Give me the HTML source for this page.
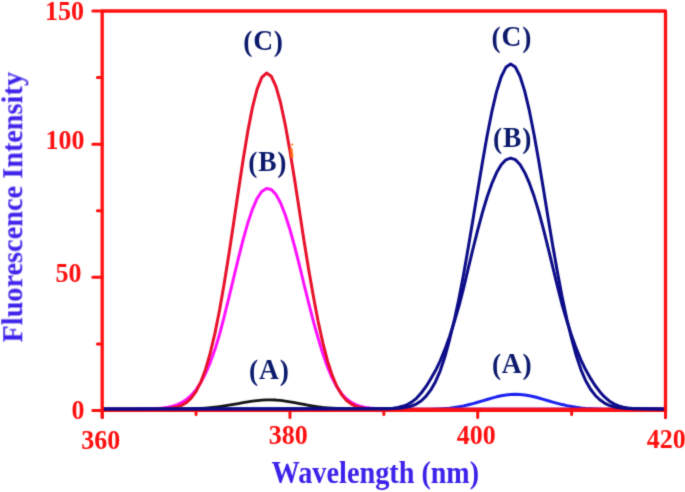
<!DOCTYPE html>
<html><head><meta charset="utf-8"><style>html,body{margin:0;padding:0;background:#fff;overflow:hidden}svg{display:block}</style></head>
<body><svg width="685" height="492" viewBox="0 0 685 492"><defs><filter id="soft" x="0" y="0" width="685" height="492" filterUnits="userSpaceOnUse" color-interpolation-filters="sRGB"><feConvolveMatrix order="3" kernelMatrix="0.01917 0.10012 0.01917 0.10012 0.52283 0.10012 0.01917 0.10012 0.01917" edgeMode="none"/></filter></defs><rect width="685" height="492" fill="#fff"/><g filter="url(#soft)"><path d="M102.2,409.80 L402.6,409.78 L407.3,409.76 L412.0,409.74 L416.7,409.70 L421.4,409.64 L426.1,409.55 L430.8,409.41 L435.5,409.22 L440.2,408.96 L444.9,408.60 L449.6,408.13 L454.3,407.53 L459.0,406.78 L463.7,405.87 L468.3,404.81 L473.0,403.60 L477.7,402.27 L482.4,400.88 L487.1,399.46 L491.8,398.08 L496.5,396.83 L501.2,395.76 L505.9,394.95 L510.6,394.46 L515.3,394.30 L520.0,394.49 L524.7,394.99 L529.4,395.79 L534.1,396.82 L538.8,398.03 L543.5,399.36 L548.1,400.74 L552.8,402.10 L557.5,403.39 L562.2,404.58 L566.9,405.64 L571.6,406.56 L576.3,407.33 L581.0,407.95 L585.7,408.45 L590.4,408.83 L595.1,409.12 L599.8,409.34 L604.5,409.49 L609.2,409.60 L613.9,409.67 L618.6,409.72 L623.3,409.75 L627.9,409.77 L637.3,409.79 L665.5,409.80" fill="none" stroke="#1a22f0" stroke-width="3" stroke-linejoin="round" stroke-linecap="butt"/>
<path d="M102.2,409.20 L163.2,409.17 L167.9,409.16 L172.6,409.13 L177.3,409.09 L182.0,409.02 L186.7,408.93 L191.4,408.81 L196.1,408.63 L200.8,408.39 L205.5,408.09 L210.2,407.69 L214.9,407.21 L219.6,406.63 L224.2,405.96 L228.9,405.21 L233.6,404.39 L238.3,403.53 L243.0,402.67 L247.7,401.86 L252.4,401.12 L257.1,400.52 L261.8,400.09 L266.5,399.84 L271.2,399.82 L275.9,400.02 L280.6,400.44 L285.3,401.05 L290.0,401.81 L294.7,402.67 L299.4,403.57 L304.0,404.47 L308.7,405.32 L313.4,406.10 L318.1,406.78 L322.8,407.37 L327.5,407.84 L332.2,408.22 L336.9,408.51 L341.6,408.73 L346.3,408.88 L351.0,408.99 L355.7,409.07 L360.4,409.12 L365.1,409.15 L369.8,409.17 L383.8,409.19 L665.5,409.20" fill="none" stroke="#141414" stroke-width="2.8" stroke-linejoin="round" stroke-linecap="butt"/>
<path d="M102.2,409.20 L130.4,409.17 L135.1,409.15 L139.8,409.11 L144.4,409.04 L149.1,408.92 L153.8,408.74 L158.5,408.44 L163.2,407.97 L167.9,407.26 L172.6,406.20 L177.3,404.65 L182.0,402.43 L186.7,399.34 L191.4,395.14 L196.1,389.60 L200.8,382.46 L205.5,373.51 L210.2,362.57 L214.9,349.58 L219.6,334.25 L224.2,316.65 L228.9,297.72 L233.6,278.13 L238.3,258.63 L243.0,240.10 L247.7,223.38 L252.4,209.28 L257.1,198.47 L261.8,191.42 L266.5,188.41 L271.2,189.44 L275.9,194.36 L280.6,202.99 L285.3,214.97 L290.0,229.77 L294.7,246.74 L299.4,265.19 L304.0,284.26 L308.7,303.19 L313.4,321.29 L318.1,338.08 L322.8,353.58 L327.5,366.97 L332.2,378.12 L336.9,386.97 L341.6,393.81 L346.3,398.71 L351.0,402.23 L355.7,404.70 L360.4,406.31 L365.1,407.36 L369.8,408.05 L374.5,408.50 L379.2,408.78 L383.8,408.96 L388.5,409.06 L393.2,409.12 L397.9,409.16 L407.3,409.19 L665.5,409.20" fill="none" stroke="#ff10ff" stroke-width="3" stroke-linejoin="round" stroke-linecap="butt"/>
<path d="M102.2,409.20 L144.4,409.17 L149.1,409.14 L153.8,409.08 L158.5,408.97 L163.2,408.77 L167.9,408.42 L172.6,407.83 L177.3,406.84 L182.0,405.11 L186.7,402.37 L191.4,397.95 L196.1,391.42 L200.8,382.13 L205.5,369.54 L210.2,353.20 L214.9,333.40 L219.6,310.05 L224.2,283.49 L228.9,254.32 L233.6,223.21 L238.3,191.43 L243.0,160.45 L247.7,131.90 L252.4,107.63 L257.1,89.07 L261.8,77.32 L266.5,73.02 L271.2,76.16 L275.9,86.34 L280.6,102.96 L285.3,125.04 L290.0,151.30 L294.7,180.32 L299.4,210.62 L304.0,240.80 L308.7,269.64 L313.4,296.57 L318.1,321.24 L322.8,342.62 L327.5,360.93 L332.2,375.46 L336.9,386.51 L341.6,394.60 L346.3,400.22 L351.0,403.80 L355.7,406.08 L360.4,407.36 L365.1,408.12 L369.8,408.58 L374.5,408.86 L379.2,409.02 L383.8,409.10 L388.5,409.15 L393.2,409.17 L407.3,409.20 L665.5,409.20" fill="none" stroke="#e8102a" stroke-width="3" stroke-linejoin="round" stroke-linecap="butt"/>
<path d="M290.9,147.8 L292.1,157.5" stroke="#ff6a14" stroke-width="2.8" fill="none"/><circle cx="292.2" cy="144.6" r="1.1" fill="#ff7a20"/>
<path d="M102.2,410.5 L665.5,410.5 M102.20,410.5 L102.20,417.6 M289.97,410.5 L289.97,417.6 M477.73,410.5 L477.73,417.6 M665.50,410.5 L665.50,417.6 M196.08,410.5 L196.08,414.6 M383.85,410.5 L383.85,414.6 M571.62,410.5 L571.62,414.6" fill="none" stroke="#ff1010" stroke-width="3" stroke-linecap="round"/>
<path d="M102.2,408.90 L369.8,408.87 L374.5,408.85 L379.2,408.81 L383.8,408.72 L388.5,408.51 L393.2,408.13 L397.9,407.45 L402.6,406.33 L407.3,404.56 L412.0,401.93 L416.7,398.10 L421.4,392.76 L426.1,386.44 L430.8,378.82 L435.5,370.59 L440.2,360.82 L444.9,349.43 L449.6,336.41 L454.3,321.83 L459.0,305.83 L463.7,287.59 L468.3,268.12 L473.0,248.77 L477.7,230.11 L482.4,212.62 L487.1,196.98 L491.8,183.70 L496.5,172.84 L501.2,164.79 L505.9,159.82 L510.6,158.10 L515.3,159.67 L520.0,164.49 L524.7,172.41 L529.4,183.14 L534.1,196.32 L538.8,211.85 L543.5,229.28 L548.1,247.90 L552.8,267.23 L557.5,286.71 L562.2,305.04 L566.9,321.02 L571.6,335.61 L576.3,348.64 L581.0,360.05 L585.7,369.86 L590.4,378.15 L595.1,385.53 L599.8,391.67 L604.5,396.92 L609.2,400.94 L613.9,403.87 L618.6,405.86 L623.3,407.16 L627.9,407.95 L632.6,408.41 L637.3,408.66 L642.0,408.78 L646.7,408.83 L651.4,408.86 L660.8,408.89 L665.5,408.89" fill="none" stroke="#0c0c88" stroke-width="3" stroke-linejoin="round" stroke-linecap="butt"/>
<path d="M102.2,408.90 L379.2,408.87 L383.8,408.83 L388.5,408.76 L393.2,408.62 L397.9,408.35 L402.6,407.89 L407.3,407.10 L412.0,405.81 L416.7,403.79 L421.4,400.74 L426.1,396.19 L430.8,389.91 L435.5,381.70 L440.2,370.85 L444.9,356.78 L449.6,339.52 L454.3,320.19 L459.0,298.28 L463.7,273.74 L468.3,247.19 L473.0,219.26 L477.7,190.69 L482.4,162.50 L487.1,135.85 L491.8,111.94 L496.5,91.92 L501.2,76.78 L505.9,67.31 L510.6,64.00 L515.3,67.02 L520.0,76.22 L524.7,91.11 L529.4,110.93 L534.1,134.69 L538.8,161.23 L543.5,189.38 L548.1,217.96 L552.8,245.94 L557.5,272.56 L562.2,297.22 L566.9,319.25 L571.6,338.61 L576.3,355.78 L581.0,369.84 L585.7,380.72 L590.4,388.99 L595.1,395.21 L599.8,399.79 L604.5,403.09 L609.2,405.32 L613.9,406.77 L618.6,407.68 L623.3,408.22 L627.9,408.54 L632.6,408.72 L637.3,408.81 L642.0,408.86 L646.7,408.88 L665.5,408.90" fill="none" stroke="#0c0c88" stroke-width="3" stroke-linejoin="round" stroke-linecap="butt"/>
<path d="M102.2,412.0 L102.2,11.0 L665.5,11.0 L665.5,412.0" fill="none" stroke="#ff1010" stroke-width="3.3" stroke-linejoin="round"/>
<path d="M102.2,410.50 L92.8,410.50 M102.2,277.33 L92.8,277.33 M102.2,144.17 L92.8,144.17 M102.2,11.00 L92.8,11.00 M102.2,343.92 L97.4,343.92 M102.2,210.75 L97.4,210.75 M102.2,77.58 L97.4,77.58 M102.20,410.5 L102.20,417.6 M665.50,410.5 L665.50,417.6" fill="none" stroke="#ff1010" stroke-width="3" stroke-linecap="round"/>
<text transform="translate(84,19.5) scale(1,1.04)" font-family="Liberation Serif, Times New Roman, serif" font-weight="bold" font-size="26" fill="#ff1010" text-anchor="end">150</text>
<text transform="translate(84.5,149) scale(1,1.04)" font-family="Liberation Serif, Times New Roman, serif" font-weight="bold" font-size="26" fill="#ff1010" text-anchor="end">100</text>
<text transform="translate(81.5,281.5) scale(1,1.04)" font-family="Liberation Serif, Times New Roman, serif" font-weight="bold" font-size="26" fill="#ff1010" text-anchor="end">50</text>
<text transform="translate(84.5,419) scale(1,1.04)" font-family="Liberation Serif, Times New Roman, serif" font-weight="bold" font-size="26" fill="#ff1010" text-anchor="end">0</text>
<text transform="translate(100.7,448.5) scale(1,1.04)" font-family="Liberation Serif, Times New Roman, serif" font-weight="bold" font-size="26" fill="#ff1010" text-anchor="middle">360</text>
<text transform="translate(288.3,444) scale(1,1.04)" font-family="Liberation Serif, Times New Roman, serif" font-weight="bold" font-size="26" fill="#ff1010" text-anchor="middle">380</text>
<text transform="translate(476.3,443.5) scale(1,1.04)" font-family="Liberation Serif, Times New Roman, serif" font-weight="bold" font-size="26" fill="#ff1010" text-anchor="middle">400</text>
<text transform="translate(666.3,448) scale(1,1.04)" font-family="Liberation Serif, Times New Roman, serif" font-weight="bold" font-size="26" fill="#ff1010" text-anchor="middle">420</text>
<text transform="translate(271.5,482.8) scale(1,1.1)" font-family="Liberation Serif, Times New Roman, serif" font-weight="bold" font-size="28.3" fill="#3c22ea" text-anchor="start">Wavelength</text>
<text transform="translate(421.46,482.8) scale(1,1.1)" font-family="Liberation Serif, Times New Roman, serif" font-weight="bold" font-size="28" fill="#3c22ea" text-anchor="start">(nm)</text>
<text transform="translate(22.3,342.5) rotate(-90) scale(1,1.04)" font-family="Liberation Serif, Times New Roman, serif" font-weight="bold" font-size="28.3" fill="#3c22ea">Fluorescence Intensity</text>
<text transform="translate(263.9,50.2) scale(1,1.07)" font-family="Liberation Serif, Times New Roman, serif" font-weight="bold" font-size="27.5" fill="#0c1a6c" text-anchor="middle"><tspan dy="1" dx="-0.8">(</tspan><tspan dy="-1" dx="0.8">C</tspan><tspan dy="1" dx="0.8">)</tspan></text>
<text transform="translate(268.2,171) scale(1,1.07)" font-family="Liberation Serif, Times New Roman, serif" font-weight="bold" font-size="27.5" fill="#0c1a6c" text-anchor="middle"><tspan dy="1" dx="-0.8">(</tspan><tspan dy="-1" dx="0.8">B</tspan><tspan dy="1" dx="0.8">)</tspan></text>
<text transform="translate(269.79999999999995,378.7) scale(1,1.07)" font-family="Liberation Serif, Times New Roman, serif" font-weight="bold" font-size="27.5" fill="#0c1a6c" text-anchor="middle"><tspan dy="1" dx="-0.8">(</tspan><tspan dy="-1" dx="0.8">A</tspan><tspan dy="1" dx="0.8">)</tspan></text>
<text transform="translate(512.3,46.3) scale(1,1.07)" font-family="Liberation Serif, Times New Roman, serif" font-weight="bold" font-size="27.5" fill="#0c1a6c" text-anchor="middle"><tspan dy="1" dx="-0.8">(</tspan><tspan dy="-1" dx="0.8">C</tspan><tspan dy="1" dx="0.8">)</tspan></text>
<text transform="translate(513.0,147.2) scale(1,1.07)" font-family="Liberation Serif, Times New Roman, serif" font-weight="bold" font-size="27.5" fill="#0c1a6c" text-anchor="middle"><tspan dy="1" dx="-0.8">(</tspan><tspan dy="-1" dx="0.8">B</tspan><tspan dy="1" dx="0.8">)</tspan></text>
<text transform="translate(512.6,373.3) scale(1,1.07)" font-family="Liberation Serif, Times New Roman, serif" font-weight="bold" font-size="27.5" fill="#0c1a6c" text-anchor="middle"><tspan dy="1" dx="-0.8">(</tspan><tspan dy="-1" dx="0.8">A</tspan><tspan dy="1" dx="0.8">)</tspan></text></g></svg></body></html>
